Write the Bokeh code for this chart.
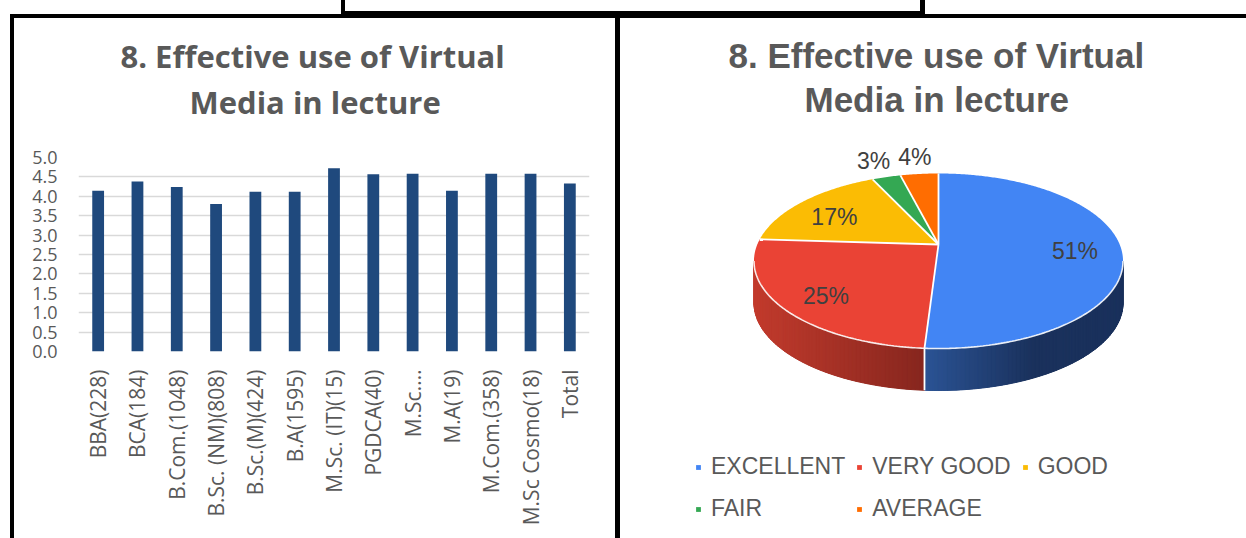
import math
import numpy as np
from bokeh.plotting import figure
from bokeh.models import (FactorRange, Range1d, FixedTicker, PrintfTickFormatter,
                          Title, Div, Spacer, ColumnDataSource)
from bokeh.layouts import row, column
from bokeh.embed import file_html
from bokeh.resources import INLINE
from bokeh.core.properties import value

# ---------------- data ----------------
title_lines = ["8. Effective use of Virtual", "Media in lecture"]

categories = ["BBA(228)", "BCA(184)", "B.Com.(1048)", "B.Sc. (NM)(808)", "B.Sc.(M)(424)",
              "B.A(1595)", "M.Sc. (IT)(15)", "PGDCA(40)", "M.Sc.\u2026", "M.A(19)",
              "M.Com.(358)", "M.Sc Cosmo(18)", "Total"]
scores = [4.14, 4.38, 4.24, 3.80, 4.12, 4.12, 4.72, 4.57, 4.58, 4.14, 4.58, 4.58, 4.33]
y_ticks = [0.0, 0.5, 1.0, 1.5, 2.0, 2.5, 3.0, 3.5, 4.0, 4.5, 5.0]

ratings = ["EXCELLENT", "VERY GOOD", "GOOD", "FAIR", "AVERAGE"]
shares = [51, 25, 17, 3, 4]
top_colors = ["#4285F4", "#EA4335", "#FBBC04", "#34A853", "#FF6D01"]
side_colors = [("#2B5394", "#1A315C"), ("#C23B2D", "#86261E"), ("#C99603", "#8F6A02"),
               ("#2A8743", "#1D5E2F"), ("#CC5701", "#8F3D01")]

GREY = "#595959"


def add_titles(p, font, size, offsets, standoffs, spacer):
    # spacer (closest to the frame), then line 2, then line 1
    p.add_layout(Title(text=" ", text_font_size="1px", standoff=spacer), "above")
    for txt, off, so in reversed(list(zip(title_lines, offsets, standoffs))):
        p.add_layout(Title(text=txt, align="left", offset=off, standoff=so, text_font=font,
                           text_font_size=size, text_font_style="bold", text_color=GREY), "above")


# ---------------- left: bar chart ----------------
p1 = figure(width=601, height=518, x_range=FactorRange(factors=categories), y_range=Range1d(0, 5),
            output_backend="svg", toolbar_location=None, title=None,
            min_border_left=64, min_border_right=26, min_border_top=138, min_border_bottom=186)
p1.vbar(x=categories, top=scores, width=0.3, fill_color="#1F497D", line_color=None)
p1.outline_line_color = None
p1.xgrid.grid_line_color = None
p1.ygrid.ticker = FixedTicker(ticks=y_ticks)
p1.ygrid.grid_line_color = "#D9D9D9"
p1.ygrid.grid_line_width = 1.5
p1.yaxis.ticker = FixedTicker(ticks=y_ticks)
p1.yaxis.formatter = PrintfTickFormatter(format="%.1f")
for ax in (p1.xaxis[0], p1.yaxis[0]):
    ax.axis_line_color = None
    ax.major_tick_line_color = None
    ax.minor_tick_line_color = None
    ax.major_tick_out = 0
    ax.major_tick_in = 0
    ax.major_label_text_color = GREY
    ax.major_label_text_font = "Open Sans"
p1.yaxis.major_label_text_font_size = "18px"
p1.yaxis.major_label_standoff = 21
p1.xaxis.major_label_text_font_size = "21px"
p1.xaxis.major_label_orientation = math.pi / 2
p1.xaxis.major_label_standoff = 18
add_titles(p1, "Open Sans", "31px", offsets=[42, 111], standoffs=[4, 0], spacer=32)

# ---------------- right: 3D pie ----------------
p2 = figure(width=626, height=520, x_range=Range1d(620, 1246), y_range=Range1d(538, 130),
            output_backend="svg", toolbar_location=None, title=None,
            x_axis_type=None, y_axis_type=None,
            min_border_left=0, min_border_right=0, min_border_top=112, min_border_bottom=0)
p2.outline_line_color = None
p2.grid.visible = False
add_titles(p2, "Liberation Sans", "35px", offsets=[108, 184], standoffs=[5, 0], spacer=9)

CX, CY = 938.0, 244.0      # apex of the pie (page-like coordinates)
A, B, K = 181.2, 84.4, 0.1886
DEPTH = 42.0


def proj(theta, r=1.0):
    d = 1.0 + K * r * np.cos(theta)
    return CX + A * r * np.sin(theta) / d, CY - B * r * np.cos(theta) / d


def mix(c1, c2, f):
    a = [int(c1[i:i + 2], 16) for i in (1, 3, 5)]
    b = [int(c2[i:i + 2], 16) for i in (1, 3, 5)]
    return "#%02x%02x%02x" % tuple(int(round(a[i] + (b[i] - a[i]) * f)) for i in range(3))


vals = np.array(shares, dtype=float)
frac = vals / vals.sum()
ends = np.cumsum(frac) * 2 * np.pi
starts = ends - frac * 2 * np.pi
th_lo = math.acos(-K)
th_hi = 2 * math.pi - th_lo

# side faces: a base band per slice, then gradient strips on top
bxs, bys, bcol = [], [], []
sxs, sys_, scol = [], [], []
for i in range(len(vals)):
    a0, b0 = max(starts[i], th_lo), min(ends[i], th_hi)
    if b0 <= a0:
        continue
    n = max(2, int((b0 - a0) / 0.02))
    ts = np.linspace(a0, b0, n + 1)
    xr, yr = proj(ts)
    bxs.append(list(xr) + list(xr[::-1]))
    bys.append(list(yr) + list((yr + DEPTH)[::-1]))
    bcol.append(mix(side_colors[i][0], side_colors[i][1], 0.6))
    xmin, xmax = xr.min(), xr.max()
    for j in range(n):
        xm = 0.5 * (xr[j] + xr[j + 1])
        f = (xm - xmin) / max(1.0, (xmax - xmin))
        f = min(1.0, f / 0.55) if i == 0 else f
        sxs.append([xr[j], xr[j + 1], xr[j + 1], xr[j]])
        sys_.append([yr[j], yr[j + 1], yr[j + 1] + DEPTH, yr[j] + DEPTH])
        scol.append(mix(side_colors[i][0], side_colors[i][1], f))
p2.patches(bxs, bys, fill_color=bcol, line_color=None)
p2.patches(sxs, sys_, fill_color=scol, line_color=scol, line_width=1.0)

# top faces
txs, tys = [], []
for i in range(len(vals)):
    ts = np.linspace(starts[i], ends[i], max(3, int((ends[i] - starts[i]) / 0.01)))
    xr, yr = proj(ts)
    txs.append([CX] + list(xr))
    tys.append([CY] + list(yr))
top_src = ColumnDataSource(dict(xs=txs, ys=tys, color=top_colors, label=ratings))
p2.patches("xs", "ys", source=top_src, fill_color="color", line_color=None, legend_field="label")

# white separators and rim highlight
lxs, lys = [], []
for t in starts:
    bx, by = proj(np.array([t]))
    lxs.append([CX, bx[0]])
    lys.append([CY, by[0]])
    if th_lo < t < th_hi:
        lxs.append([bx[0], bx[0]])
        lys.append([by[0], by[0] + DEPTH])
p2.multi_line(lxs, lys, line_color="white", line_width=1.8)
rim_t = np.linspace(th_lo, th_hi, 200)
rx, ry = proj(rim_t)
p2.line(rx, ry, line_color="white", line_width=1.6, line_alpha=0.9)

# percent labels
lab_x, lab_y, lab_t = [], [], []
for i in range(len(vals)):
    mid = 0.5 * (starts[i] + ends[i])
    inside = frac[i] >= 0.05
    r = 0.75 if inside else 1.3
    x, y = proj(np.array([mid]), r)
    lab_x.append(x[0])
    lab_y.append(y[0] + (5 if inside else 0))
    lab_t.append("%d%%" % round(frac[i] * 100))
p2.text(lab_x, lab_y, text=lab_t, text_font=value("Liberation Sans"), text_font_size="23px",
        text_color="#404040", text_align="center", text_baseline="middle")

leg = p2.legend[0]
leg.location = (75, 14)
leg.orientation = "horizontal"
leg.ncols = 3
leg.border_line_color = None
leg.background_fill_alpha = 0
leg.padding = 0
leg.margin = 0
leg.spacing = 11
leg.glyph_width = 6
leg.glyph_height = 6
leg.label_standoff = 10
leg.label_height = 31
leg.label_text_font = "Liberation Sans"
leg.label_text_font_size = "23px"
leg.label_text_color = GREY

# ---------------- frame lines (table borders) ----------------
top_html = (
    '<div style="position:relative;width:1246px;height:18px;overflow:hidden">'
    '<div style="position:absolute;left:10px;top:14px;width:1236px;height:4px;background:#000"></div>'
    '<div style="position:absolute;left:341px;top:11px;width:584px;height:4px;background:#000"></div>'
    '<div style="position:absolute;left:341px;top:0px;width:4px;height:14px;background:#000"></div>'
    '<div style="position:absolute;left:920px;top:0px;width:5px;height:15px;background:#000"></div>'
    '</div>'
)
top = Div(text=top_html, width=1246, height=18, margin=0)
vline_left = Div(text="", width=4, height=520, margin=0, styles={"background-color": "#000"})
vline_mid = Div(text="", width=5, height=520, margin=0, styles={"background-color": "#000"})

left_col = column(Spacer(width=601, height=1, margin=0), p1, spacing=0)
right_col = column(p2, spacing=0)
layout = column(top,
                row(Spacer(width=10, height=520, margin=0), vline_left, left_col, vline_mid, right_col,
                    spacing=0),
                spacing=0)

open("out.html", "w").write(file_html(layout, INLINE))
